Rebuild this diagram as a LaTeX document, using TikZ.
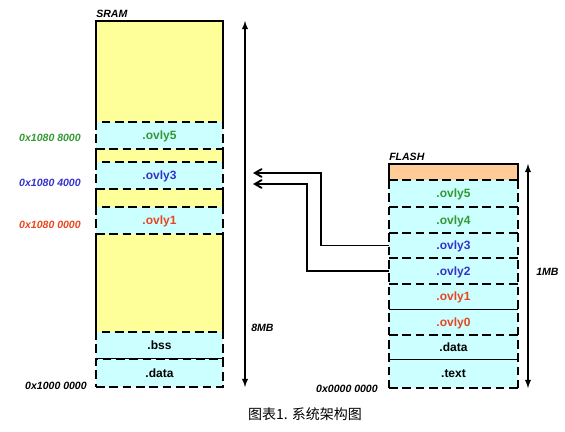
\documentclass[tikz,border=0pt]{standalone}
\usepackage{fontspec}
\setsansfont{Liberation Sans}
\newfontfamily\cjkfont{Noto Sans CJK SC}
\usepackage{tikz}
\usetikzlibrary{arrows,positioning}
\newcommand{\pxu}{0.75pt}
\definecolor{ramyellow}{HTML}{FFFF99}
\definecolor{segcyan}{HTML}{CCFFFF}
\definecolor{romorange}{HTML}{FFCC99}
\definecolor{ovgreen}{HTML}{339933}
\definecolor{ovblue}{HTML}{3333CC}
\definecolor{ovred}{HTML}{E8461E}
\tikzset{
  seg/.style={inner sep=0pt, outer sep=0pt, anchor=north west, minimum width=127*\pxu,
    text depth=0pt, font=\sffamily\bfseries\fontsize{9}{10}\selectfont},
  fseg/.style={seg, minimum width=129*\pxu, fill=segcyan},
  dsh/.style={line width=1.4pt, dash pattern=on 6.5pt off 3.5pt},
  sol/.style={line width=1.4pt},
  ovl/.style={seg, draw, dsh, fill=segcyan},
  addr/.style={anchor=east, inner sep=0pt, font=\sffamily\bfseries\itshape\fontsize{7.9}{9}\selectfont},
  conn/.style={line width=1.4pt, -angle 60},
  span/.style={line width=1.1pt, latex-latex},
}

\begin{document}
\begin{tikzpicture}[x=0.75pt, y=-0.75pt]
\useasboundingbox (0,0) rectangle (565,432);

% SRAM
\node[seg, fill=ramyellow, minimum height=101*\pxu] (ry0) at (96,21) {};
\node[seg, fill=ramyellow, minimum height=13*\pxu] (ry1) at (96,149) {};
\node[seg, fill=ramyellow, minimum height=18*\pxu] (ry2) at (96,189) {};
\node[seg, fill=ramyellow, minimum height=98*\pxu] (ry3) at (96,234) {};
\draw[sol] (ry0.south west) -- (ry0.north west) -- (ry0.north east) -- (ry0.south east);
\draw[sol] (ry1.south west) -- (ry1.north west) (ry1.south east) -- (ry1.north east);
\draw[sol] (ry2.south west) -- (ry2.north west) (ry2.south east) -- (ry2.north east);
\draw[sol] (ry3.south west) -- (ry3.north west) (ry3.south east) -- (ry3.north east);
\node[ovl, minimum height=27*\pxu, text=ovgreen] (rs5) at (96,122) {.ovly5};
\node[ovl, minimum height=27*\pxu, text=ovblue] (rs3) at (96,162) {.ovly3};
\node[ovl, minimum height=27*\pxu, text=ovred] (rs1) at (96,207) {.ovly1};
\node[ovl, minimum height=27*\pxu] (rbss) at (96,332) {.bss};
\node[ovl, minimum height=28*\pxu] (rdata) at (96,359) {.data};
\node[addr, above=2pt of ry0.north west, anchor=south west] (sram) {SRAM};

\node[addr, text=ovgreen] (a5) at (81,138) {0x1080 8000};
\node[addr, text=ovblue] (a3) at (81,183) {0x1080 4000};
\node[addr, text=ovred] (a1) at (81,225) {0x1080 0000};
\node[addr] (a0) at (87,386) {0x1000 0000};

\coordinate (r8top) at (245,21);
\coordinate (r8bot) at (245,387);
\draw[span] (r8top) -- (r8bot);
\node[addr, anchor=west] (m8) at (251,328) {8MB};

% FLASH
\node[seg, minimum width=129*\pxu, fill=romorange, minimum height=16*\pxu] (ftop) at (389,164) {};
\draw[sol] (ftop.south west) -- (ftop.north west) -- (ftop.north east) -- (ftop.south east);
\node[fseg, minimum height=27*\pxu, text=ovgreen] (f5) at (389,180) {.ovly5};
\node[fseg, minimum height=26*\pxu, text=ovgreen] (f4) at (389,207) {.ovly4};
\node[fseg, minimum height=25*\pxu, text=ovblue] (f3) at (389,233) {.ovly3};
\node[fseg, minimum height=26*\pxu, text=ovblue] (f2) at (389,258) {.ovly2};
\node[fseg, minimum height=25*\pxu, text=ovred] (f1) at (389,284) {.ovly1};
\node[fseg, minimum height=26*\pxu, text=ovred] (f0) at (389,309) {.ovly0};
\node[fseg, minimum height=24*\pxu] (fdata) at (389,335) {.data};
\node[fseg, minimum height=29*\pxu] (ftext) at (389,359) {.text};
\draw[dsh] (f5.north west) -- (ftext.south west);
\draw[dsh] (f5.north east) -- (ftext.south east);
\draw[dsh] (f5.north west) -- (f5.north east);
\draw[dsh] (f4.north west) -- (f4.north east);
\draw[dsh] (f3.north west) -- (f3.north east);
\draw[dsh] (f2.north west) -- (f2.north east);
\draw[dsh] (f1.north west) -- (f1.north east);
\draw[line width=0.7pt] (f0.north west) -- (f0.north east);
\draw[dsh] (fdata.north west) -- (fdata.north east);
\draw[line width=0.7pt] (ftext.north west) -- (ftext.north east);
\draw[dsh] (ftext.south west) -- (ftext.south east);
\node[addr, above=2pt of ftop.north west, anchor=south west] (flash) {FLASH};
\node[addr] (b0) at (378,389) {0x0000 0000};

\coordinate (f1top) at (528,164);
\coordinate (f1bot) at (528,388);
\draw[span] (f1top) -- (f1bot);
\node[addr, anchor=west] (m1) at (536,272) {1MB};

% overlay copies
\coordinate (in3) at (253,173);
\coordinate (in2) at (253,184);
\draw[conn] (f3.west) -- ++(-68,0) |- (in3);
\draw[conn] (f2.west) -- ++(-82,0) |- (in2);

\node[font=\cjkfont\fontsize{10.5}{12}\selectfont] (cap) at (305,414) {图表1. 系统架构图};
\end{tikzpicture}
\end{document}
